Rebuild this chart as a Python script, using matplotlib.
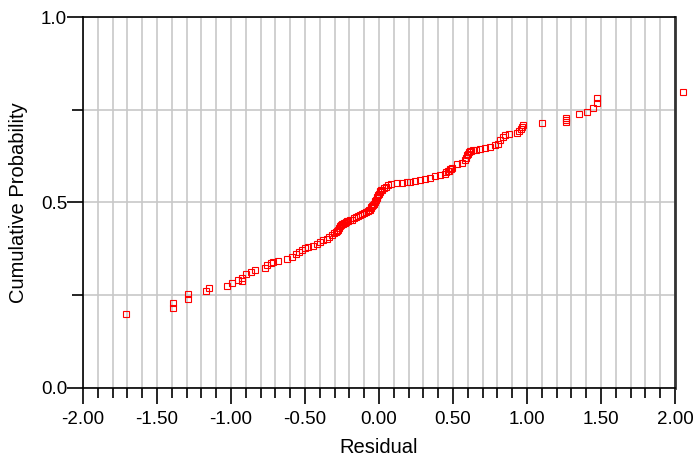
import matplotlib
matplotlib.use("Agg")
import matplotlib.pyplot as plt
from matplotlib.ticker import MultipleLocator, FixedLocator

plt.rcParams['font.family'] = ['Liberation Sans', 'DejaVu Sans']

# residuals (sorted) and their cumulative probabilities
residual = [-1.71, -1.39, -1.39, -1.29, -1.29, -1.17, -1.15, -1.03, -0.99, -0.95,
            -0.926, -0.926, -0.899, -0.867, -0.838, -0.770, -0.755, -0.732, -0.714, -0.684,
            -0.620, -0.590, -0.563, -0.541, -0.522, -0.500, -0.478, -0.448, -0.417, -0.399,
            -0.376, -0.353, -0.336, -0.320, -0.304, -0.291, -0.283, -0.275, -0.270, -0.264,
            -0.257, -0.250, -0.243, -0.236, -0.229, -0.223, -0.216, -0.209, -0.196, -0.182,
            -0.169, -0.155, -0.142, -0.128, -0.115, -0.101, -0.088, -0.074, -0.067, -0.061,
            -0.056, -0.051, -0.046, -0.041, -0.035, -0.030, -0.025, -0.020, -0.015, -0.010,
            -0.005, 0.000, 0.005, 0.010, 0.015, 0.020, 0.034, 0.047, 0.061, 0.081,
            0.120, 0.153, 0.187, 0.209, 0.243, 0.277, 0.311, 0.345, 0.378, 0.412,
            0.446, 0.456, 0.466, 0.473, 0.480, 0.487, 0.493, 0.527, 0.559, 0.581,
            0.590, 0.595, 0.602, 0.608, 0.614, 0.620, 0.635, 0.655, 0.682, 0.716,
            0.750, 0.784, 0.804, 0.818, 0.838, 0.851, 0.880, 0.930, 0.948, 0.957,
            0.964, 0.971, 1.103, 1.264, 1.264, 1.264, 1.353, 1.403, 1.444, 1.471,
            1.471, 2.054]
cum_prob = [0.199, 0.216, 0.230, 0.241, 0.253, 0.261, 0.269, 0.276, 0.282, 0.291,
            0.289, 0.296, 0.306, 0.313, 0.318, 0.324, 0.331, 0.338, 0.340, 0.343,
            0.348, 0.354, 0.361, 0.367, 0.372, 0.377, 0.380, 0.383, 0.389, 0.394,
            0.398, 0.402, 0.407, 0.412, 0.417, 0.421, 0.424, 0.427, 0.432, 0.437,
            0.439, 0.441, 0.443, 0.445, 0.446, 0.447, 0.449, 0.450, 0.453, 0.454,
            0.457, 0.461, 0.464, 0.466, 0.469, 0.472, 0.474, 0.477, 0.479, 0.481,
            0.485, 0.488, 0.490, 0.493, 0.497, 0.500, 0.503, 0.507, 0.511, 0.515,
            0.519, 0.523, 0.527, 0.530, 0.533, 0.535, 0.539, 0.543, 0.546, 0.549,
            0.552, 0.553, 0.555, 0.556, 0.558, 0.561, 0.564, 0.567, 0.571, 0.574,
            0.578, 0.581, 0.584, 0.586, 0.589, 0.591, 0.594, 0.604, 0.607, 0.615,
            0.621, 0.628, 0.631, 0.635, 0.638, 0.640, 0.642, 0.642, 0.644, 0.647,
            0.650, 0.654, 0.658, 0.669, 0.676, 0.681, 0.684, 0.688, 0.694, 0.698,
            0.704, 0.709, 0.715, 0.717, 0.722, 0.729, 0.738, 0.745, 0.756, 0.767,
            0.781, 0.799]

fig = plt.figure(figsize=(6.98, 4.61), dpi=100)
ax = fig.add_axes([0.1189, 0.1584, 0.8481, 0.8047])

ax.plot(residual, cum_prob, linestyle='none', marker='s', markersize=3.7,
        markerfacecolor='none', markeredgecolor='#ff0000', markeredgewidth=0.8,
        clip_on=False, zorder=3)

ax.set_xlim(-2.0, 2.0)
ax.set_ylim(0.0, 1.0)

ax.xaxis.set_major_locator(MultipleLocator(0.5))
ax.xaxis.set_minor_locator(MultipleLocator(0.1))
ax.xaxis.set_major_formatter(lambda v, p: '%.2f' % v)
ax.yaxis.set_major_locator(FixedLocator([0.0, 0.5, 1.0]))
ax.yaxis.set_minor_locator(FixedLocator([0.25, 0.75]))
ax.yaxis.set_major_formatter(lambda v, p: '%.1f' % v)

ax.grid(which='both', axis='x', color='#c8c8c8', linewidth=1.2)
ax.grid(which='both', axis='y', color='#c8c8c8', linewidth=1.2)
ax.set_axisbelow(True)

ax.tick_params(axis='x', which='major', direction='out', length=11.5, width=1.2,
               labelsize=13.5, pad=5)
ax.tick_params(axis='x', which='minor', direction='out', length=7, width=1.2)
ax.tick_params(axis='y', which='major', direction='out', length=11.5, width=1.2,
               labelsize=13.5, pad=0)
ax.tick_params(axis='y', which='minor', direction='out', length=8, width=1.2)

for side in ['left', 'bottom', 'top']:
    ax.spines[side].set_linewidth(1.2)
    ax.spines[side].set_color('black')
ax.spines['right'].set_linewidth(2)
ax.spines['right'].set_color('#333333')

ax.set_xlabel('Residual', fontsize=14.5)
ax.set_ylabel('Cumulative Probability', fontsize=14.5)
ax.xaxis.set_label_coords(0.5, -0.135)
ax.yaxis.set_label_coords(-0.093, 0.5)

fig.savefig('out.png', dpi=100)
